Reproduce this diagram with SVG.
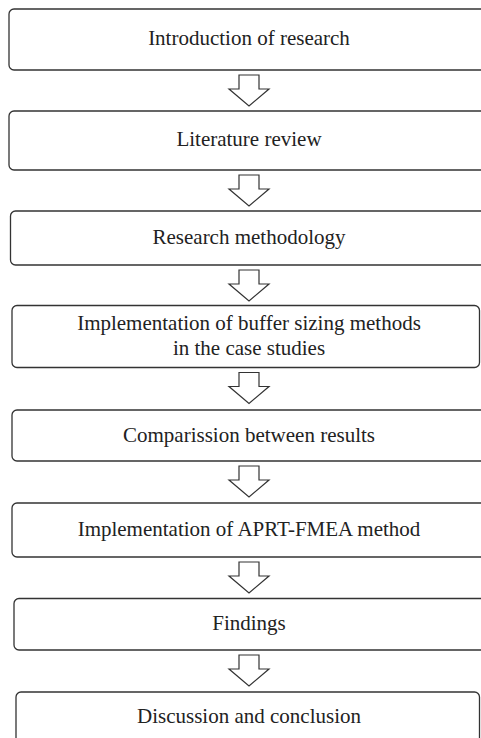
<svg xmlns="http://www.w3.org/2000/svg" width="481" height="738" viewBox="0 0 481 738">
<defs>
<style>
.box{fill:#fff;stroke:#333;stroke-width:1.3}
.t{font-family:"Liberation Serif","Times New Roman",serif;font-size:21px;fill:#222;text-anchor:middle}
.arr{fill:#fff;stroke:#333;stroke-width:1.2;stroke-linejoin:miter}
</style>
<path id="arrow" d="M-10,0 H10 V14 H20 L0,31 L-20,14 H-10 Z"/>
</defs>
<rect width="481" height="738" fill="#fff"/>
<g id="n1"><rect class="box" x="9" y="9" width="490" height="61" rx="5"/><text class="t" x="249" y="45">Introduction of research</text></g>
<g id="n2"><rect class="box" x="9" y="111" width="490" height="59" rx="5"/><text class="t" x="249" y="146">Literature review</text></g>
<g id="n3"><rect class="box" x="10.5" y="211" width="490" height="54" rx="5"/><text class="t" x="249" y="244">Research methodology</text></g>
<g id="n4"><rect class="box" x="12" y="305.5" width="467.5" height="62" rx="5"/><text class="t" x="249" y="330">Implementation of buffer sizing methods</text><text class="t" x="249" y="355">in the case studies</text></g>
<g id="n5"><rect class="box" x="12" y="410" width="490" height="51" rx="5"/><text class="t" x="249" y="442">Comparission between results</text></g>
<g id="n6"><rect class="box" x="12" y="503" width="490" height="54" rx="5"/><text class="t" x="249" y="536">Implementation of APRT-FMEA method</text></g>
<g id="n7"><rect class="box" x="14" y="598.5" width="490" height="51.5" rx="5"/><text class="t" x="249" y="630">Findings</text></g>
<g id="n8"><rect class="box" x="16" y="692" width="463.5" height="60" rx="5"/><text class="t" x="249" y="723">Discussion and conclusion</text></g>
<g id="connectors">
<use href="#arrow" class="arr" x="249" y="75"/>
<use href="#arrow" class="arr" x="249" y="175"/>
<use href="#arrow" class="arr" x="249" y="270"/>
<use href="#arrow" class="arr" x="249" y="372.5"/>
<use href="#arrow" class="arr" x="249" y="466"/>
<use href="#arrow" class="arr" x="249" y="562"/>
<use href="#arrow" class="arr" x="249" y="655"/>
</g>
</svg>
